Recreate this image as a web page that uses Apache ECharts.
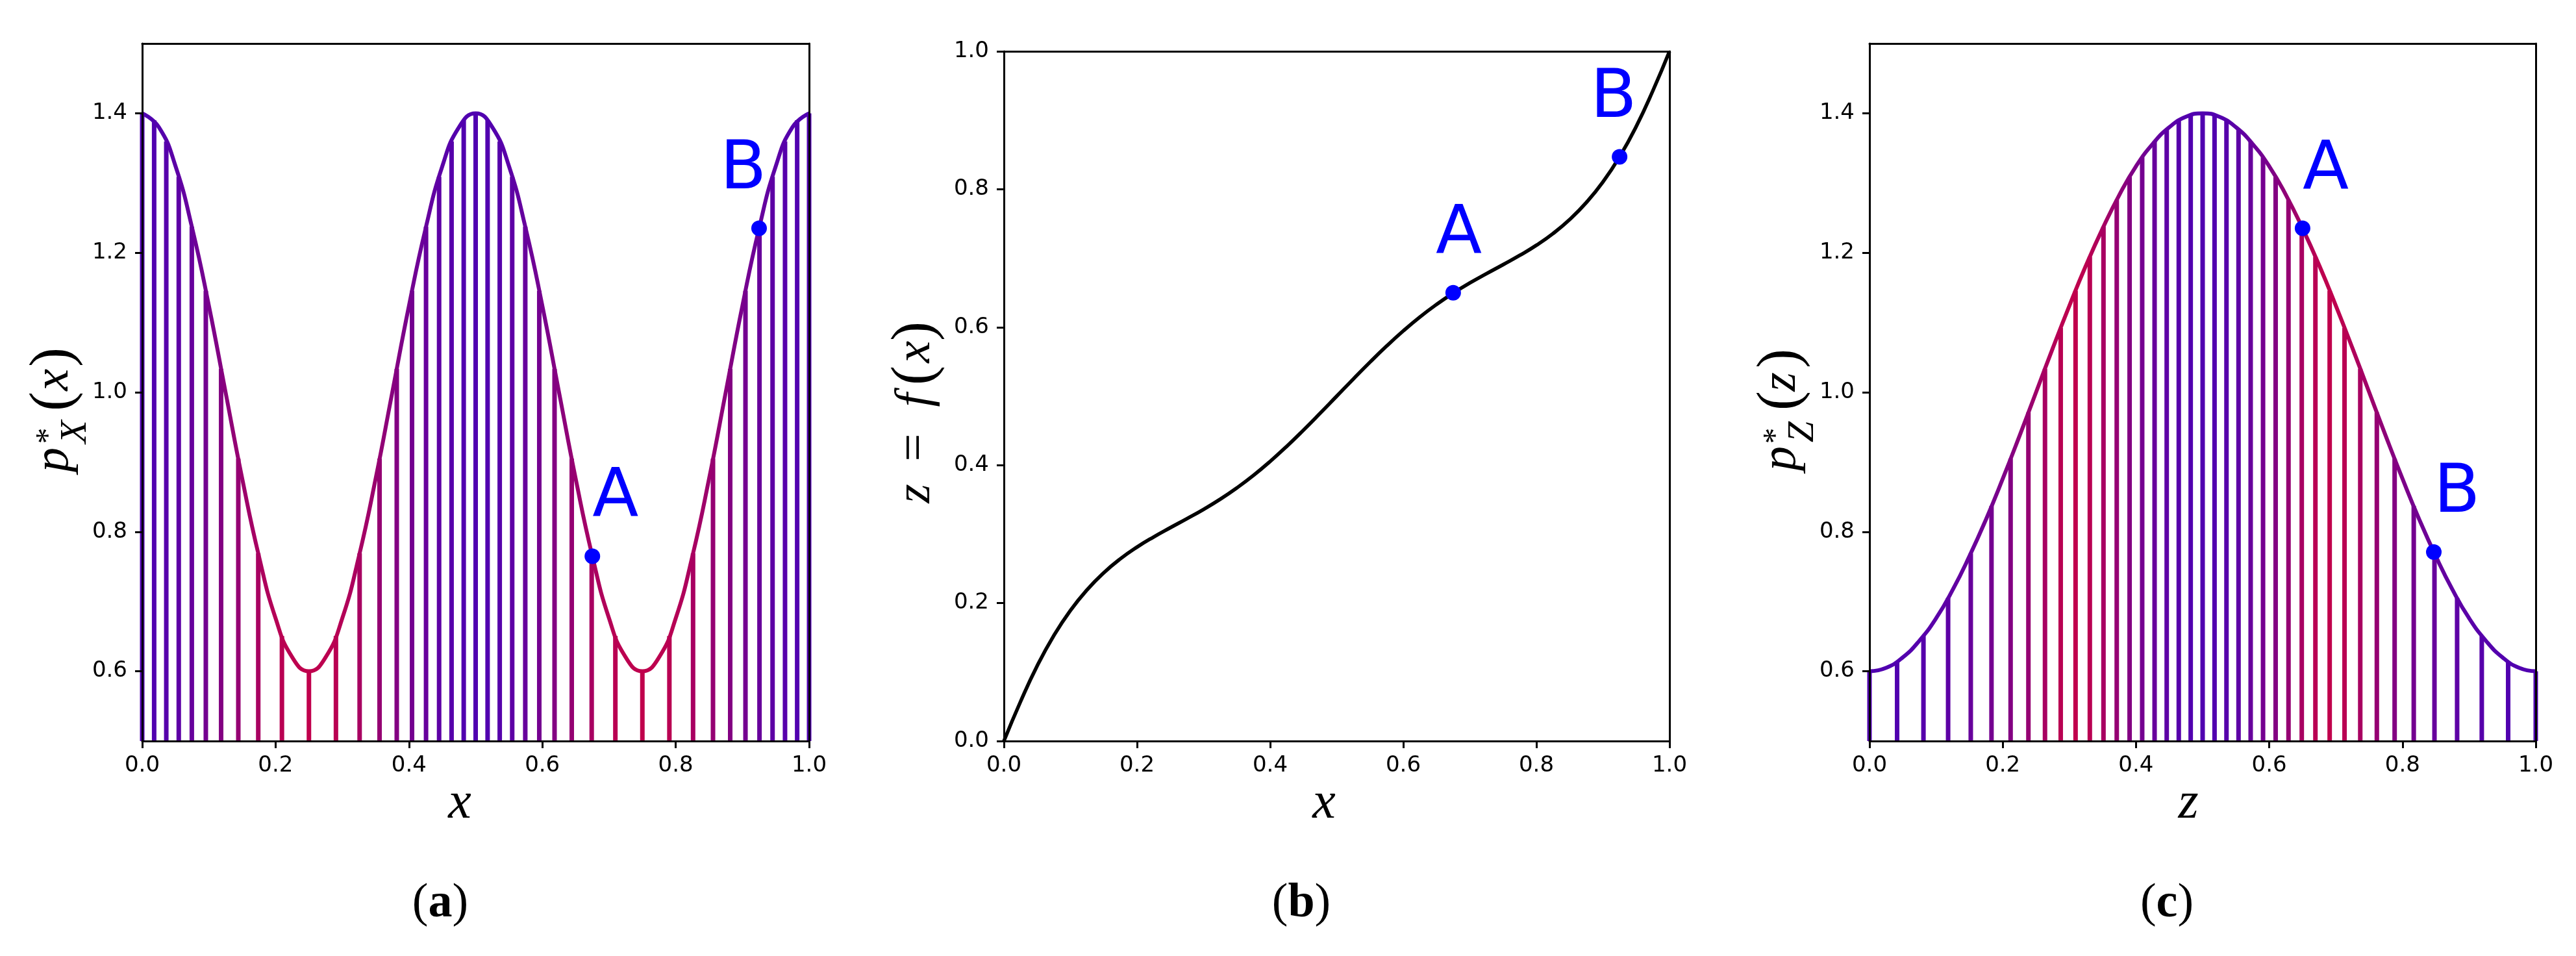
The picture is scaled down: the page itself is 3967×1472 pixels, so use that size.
<!DOCTYPE html>
<html><head><meta charset="utf-8">
<script src="https://cdn.jsdelivr.net/npm/echarts@6/dist/echarts.min.js"></script>
<style>html,body{margin:0;padding:0;background:#fff}#c{width:3967px;height:1472px}</style>
</head><body><div id="c"></div>
<script>
// ---------- data ----------
const xTicks = [0, 0.2, 0.4, 0.6, 0.8, 1.0];
const densTicks = [0.6, 0.8, 1.0, 1.2, 1.4];
const zTicks = [0, 0.2, 0.4, 0.6, 0.8, 1.0];

const curveGrid = [0,0.025,0.05,0.075,0.1,0.125,0.15,0.175,0.2,0.225,0.25,0.275,0.3,0.325,0.35,0.375,0.4,0.425,0.45,0.475,0.5,0.525,0.55,0.575,0.6,0.625,0.65,0.675,0.7,0.725,0.75,0.775,0.8,0.825,0.85,0.875,0.9,0.925,0.95,0.975,1];
// (a) p*_X(x)
const curveA = [1.400,1.380,1.324,1.235,1.124,1.000,0.876,0.765,0.676,0.620,0.600,0.620,0.676,0.765,0.876,1.000,1.124,1.235,1.324,1.380,1.400,1.380,1.324,1.235,1.124,1.000,0.876,0.765,0.676,0.620,0.600,0.620,0.676,0.765,0.876,1.000,1.124,1.235,1.324,1.380,1.400];
// (b) z = f(x)
const curveB = [0,0.0572,0.1090,0.1529,0.1894,0.2193,0.2439,0.2642,0.2812,0.2959,0.3093,0.3224,0.3359,0.3506,0.3670,0.3852,0.4054,0.4273,0.4507,0.4751,0.5,0.5249,0.5493,0.5727,0.5946,0.6148,0.6330,0.6494,0.6641,0.6776,0.6907,0.7041,0.7188,0.7358,0.7561,0.7807,0.8106,0.8471,0.8910,0.9428,1];
// (c) p*_Z(z)
const curveC = [0.600,0.605,0.620,0.644,0.676,0.717,0.765,0.818,0.876,0.937,1.000,1.063,1.124,1.182,1.235,1.283,1.324,1.356,1.380,1.395,1.400,1.395,1.380,1.356,1.324,1.283,1.235,1.182,1.124,1.063,1.000,0.937,0.876,0.818,0.765,0.717,0.676,0.644,0.620,0.605,0.600];

// vertical lines (a): positions and heights
const linesAX = [0,0.0179,0.0361,0.0548,0.0744,0.0954,0.1183,0.1441,0.1740,0.2095,0.25,0.2905,0.3260,0.3559,0.3817,0.4046,0.4256,0.4452,0.4639,0.4821,0.5,0.5179,0.5361,0.5548,0.5744,0.5954,0.6183,0.6441,0.6740,0.7095,0.75,0.7905,0.8260,0.8559,0.8817,0.9046,0.9256,0.9452,0.9639,0.9821,1];
const linesATop = [1.4,1.3899,1.3596,1.3088,1.2375,1.1454,1.0336,0.9049,0.7690,0.6507,0.6,0.6507,0.7690,0.9049,1.0336,1.1454,1.2375,1.3088,1.3596,1.3899,1.4,1.3899,1.3596,1.3088,1.2375,1.1454,1.0336,0.9049,0.7690,0.6507,0.6,0.6507,0.7690,0.9049,1.0336,1.1454,1.2375,1.3088,1.3596,1.3899,1.4];
// vertical lines (c)
const linesCZ = [0,0.0414,0.0810,0.1180,0.1520,0.1831,0.2118,0.2385,0.2634,0.2870,0.3093,0.3307,0.3512,0.3711,0.3904,0.4093,0.4279,0.4461,0.4642,0.4821,0.5,0.5179,0.5358,0.5539,0.5721,0.5907,0.6096,0.6289,0.6488,0.6693,0.6907,0.7130,0.7366,0.7615,0.7882,0.8169,0.8480,0.8820,0.9190,0.9586,1];
const linesCTop = [0.6,0.6134,0.6507,0.7051,0.7689,0.8368,0.9049,0.9711,1.0336,1.0922,1.1456,1.1942,1.2375,1.2758,1.3088,1.3368,1.3596,1.3773,1.3899,1.3975,1.4,1.3975,1.3899,1.3773,1.3596,1.3368,1.3088,1.2758,1.2375,1.1942,1.1456,1.0922,1.0336,0.9711,0.9049,0.8368,0.7689,0.7051,0.6507,0.6134,0.6];

const pointNames = ['A', 'B'];
const pointsA = [[0.675, 0.765], [0.925, 1.235]];
const pointsB = [[0.675, 0.650], [0.925, 0.847]];
const pointsC = [[0.650, 1.235], [0.847, 0.771]];

// ---------- styling ----------
const DENS_MIN = 0.5, DENS_MAX = 1.5;
const HIGH = [80, 0, 176], LOW = [192, 0, 76];
function colorFor(p) {
  const t = Math.max(0, Math.min(1, (p - 0.6) / 0.8));
  const c = LOW.map((l, k) => Math.round(l + (HIGH[k] - l) * t));
  return 'rgb(' + c.join(',') + ')';
}
const lineColors = linesATop.map(colorFor);
const gradA = {type:'linear', x:0, y:0, x2:1, y2:0, colorStops: linesAX.map((x,i)=>({offset:x, color:lineColors[i]}))};
const gradC = {type:'linear', x:0, y:0, x2:1, y2:0, colorStops: linesCZ.map((x,i)=>({offset:x, color:lineColors[i]}))};

const grids = [
  {left:219, top:67, width:1027, height:1074},
  {left:1546, top:79, width:1025, height:1062},
  {left:2879, top:67, width:1026, height:1074}
];
const TICKFONT = {fontSize:34, fontFamily:'DejaVu Sans', color:'#000'};
const spine = {show:true, lineStyle:{color:'#000', width:3}};
const fmt = v => Number(v).toFixed(1);

const xAxes = [], yAxes = [];
grids.forEach((g, gi) => {
  xAxes.push({type:'value', gridIndex:gi, min:0, max:1, interval:0.2, position:'bottom', z:10,
    axisLine:Object.assign({onZero:false}, spine),
    axisTick:{show:true, inside:false, length:11, lineStyle:{color:'#000', width:3}, customValues:xTicks},
    axisLabel:Object.assign({margin:21, formatter:fmt, customValues:xTicks}, TICKFONT),
    splitLine:{show:false}});
  xAxes.push({type:'value', gridIndex:gi, min:0, max:1, position:'top', z:10,
    axisLine:Object.assign({onZero:false}, spine), axisTick:{show:false}, axisLabel:{show:false}, splitLine:{show:false}});
  const isDens = gi !== 1;
  const yt = isDens ? densTicks : zTicks;
  yAxes.push({type:'value', gridIndex:gi, min: isDens ? DENS_MIN : 0, max: isDens ? DENS_MAX : 1, position:'left', z:10,
    axisLine:Object.assign({onZero:false}, spine),
    axisTick:{show:true, inside:false, length:11, lineStyle:{color:'#000', width:3}, customValues:yt},
    axisLabel:Object.assign({margin:23, formatter:fmt, customValues:yt}, TICKFONT),
    splitLine:{show:false}});
  yAxes.push({type:'value', gridIndex:gi, min: isDens ? DENS_MIN : 0, max: isDens ? DENS_MAX : 1, position:'right', z:10,
    axisLine:Object.assign({onZero:false}, spine), axisTick:{show:false}, axisLabel:{show:false}, splitLine:{show:false}});
});

function stems(gi, xs, tops) {
  return {type:'custom', xAxisIndex:gi*2, yAxisIndex:gi*2, z:2, clip:false,
    data: xs.map((x,i)=>[x, tops[i]]),
    renderItem: (params, api) => {
      const x = api.value(0), top = api.value(1);
      const p0 = api.coord([x, DENS_MIN]), p1 = api.coord([x, top]);
      return {type:'line', shape:{x1:p0[0], y1:p0[1], x2:p1[0], y2:p1[1]},
        style:{stroke: lineColors[params.dataIndex], lineWidth:7}};
    }};
}
function curve(gi, ys, color, width) {
  return {type:'line', xAxisIndex:gi*2, yAxisIndex:gi*2, z:3, smooth:true, symbol:'none',
    data: curveGrid.map((x,i)=>[x, ys[i]]), lineStyle:{color, width}};
}
function points(gi, pts, offs) {
  return {type:'scatter', xAxisIndex:gi*2, yAxisIndex:gi*2, z:5, symbolSize:24,
    itemStyle:{color:'#0000ff', opacity:1},
    emphasis:{disabled:true},
    data: pts.map((p,i)=>({value:p, name:pointNames[i],
      label:{show:true, formatter:pointNames[i], position:'inside', align:'left', verticalAlign:'middle',
        offset:offs[i], fontSize:104, fontFamily:'DejaVu Sans', color:'#0000ff', opacity:1}}))};
}

const SERIF = '"Liberation Serif"';
function rt(x, y, text, font) {
  return {type:'text', x, y, rotation:Math.PI/2, z:20,
    style:{text, font, fill:'#000', align:'center', verticalAlign:'middle', textAlign:'center', textVerticalAlign:'middle'}};
}
function ht(x, y, text, font) {
  return {type:'text', x, y, z:20,
    style:{text, font, fill:'#000', align:'center', verticalAlign:'middle', textAlign:'center', textVerticalAlign:'middle'}};
}
function caption(x, letter) {
  return {type:'text', x, y:1392, z:20,
    style:{text:'{r|(}{b|' + letter + '}{r|)}', align:'center', verticalAlign:'middle', textAlign:'center', textVerticalAlign:'middle',
      rich:{r:{font:'74px ' + SERIF, fill:'#000'}, b:{font:'bold 74px ' + SERIF, fill:'#000'}}}};
}
const I76 = 'italic 76px ' + SERIF, P90 = '90px ' + SERIF;
const graphic = [
  // (a) y label p*_X(x)
  rt(84, 708, 'p', I76), rt(76, 671, '*', '50px ' + SERIF), rt(117, 665, 'X', 'italic 58px ' + SERIF),
  rt(84, 618, '(', P90), rt(84, 585, 'x', I76), rt(84, 550, ')', P90),
  // (b) y label z = f(x)
  rt(1411, 760, 'z', I76), rt(1411, 689, '=', '76px ' + SERIF), rt(1411, 616, 'f', I76),
  rt(1411, 578, '(', P90), rt(1411, 542, 'x', I76), rt(1411, 510, ')', P90),
  // (c) y label p*_Z(z)
  rt(2744, 706, 'p', I76), rt(2736, 671, '*', '50px ' + SERIF), rt(2777, 665, 'Z', 'italic 58px ' + SERIF),
  rt(2744, 617, '(', P90), rt(2744, 588, 'z', I76), rt(2744, 552, ')', P90),
  // x labels
  ht(708, 1238, 'x', 'italic 80px ' + SERIF), ht(2039, 1238, 'x', 'italic 80px ' + SERIF), ht(3370, 1238, 'z', 'italic 80px ' + SERIF),
  caption(678, 'a'), caption(2004, 'b'), caption(3337, 'c')
];

const chart = echarts.init(document.getElementById('c'));
chart.setOption({
  animation:false, backgroundColor:'#fff',
  grid: grids.map(g => Object.assign({show:false, containLabel:false}, g)),
  xAxis: xAxes, yAxis: yAxes,
  series: [
    stems(0, linesAX, linesATop), curve(0, curveA, gradA, 6), points(0, pointsA, [[0,-89],[-60,-89]]),
    curve(1, curveB, '#000', 5.5), points(1, pointsB, [[-27,-89],[-45,-89]]),
    stems(2, linesCZ, linesCTop), curve(2, curveC, gradC, 6), points(2, pointsC, [[0,-89],[0,-89]])
  ],
  graphic
});
</script></body></html>
